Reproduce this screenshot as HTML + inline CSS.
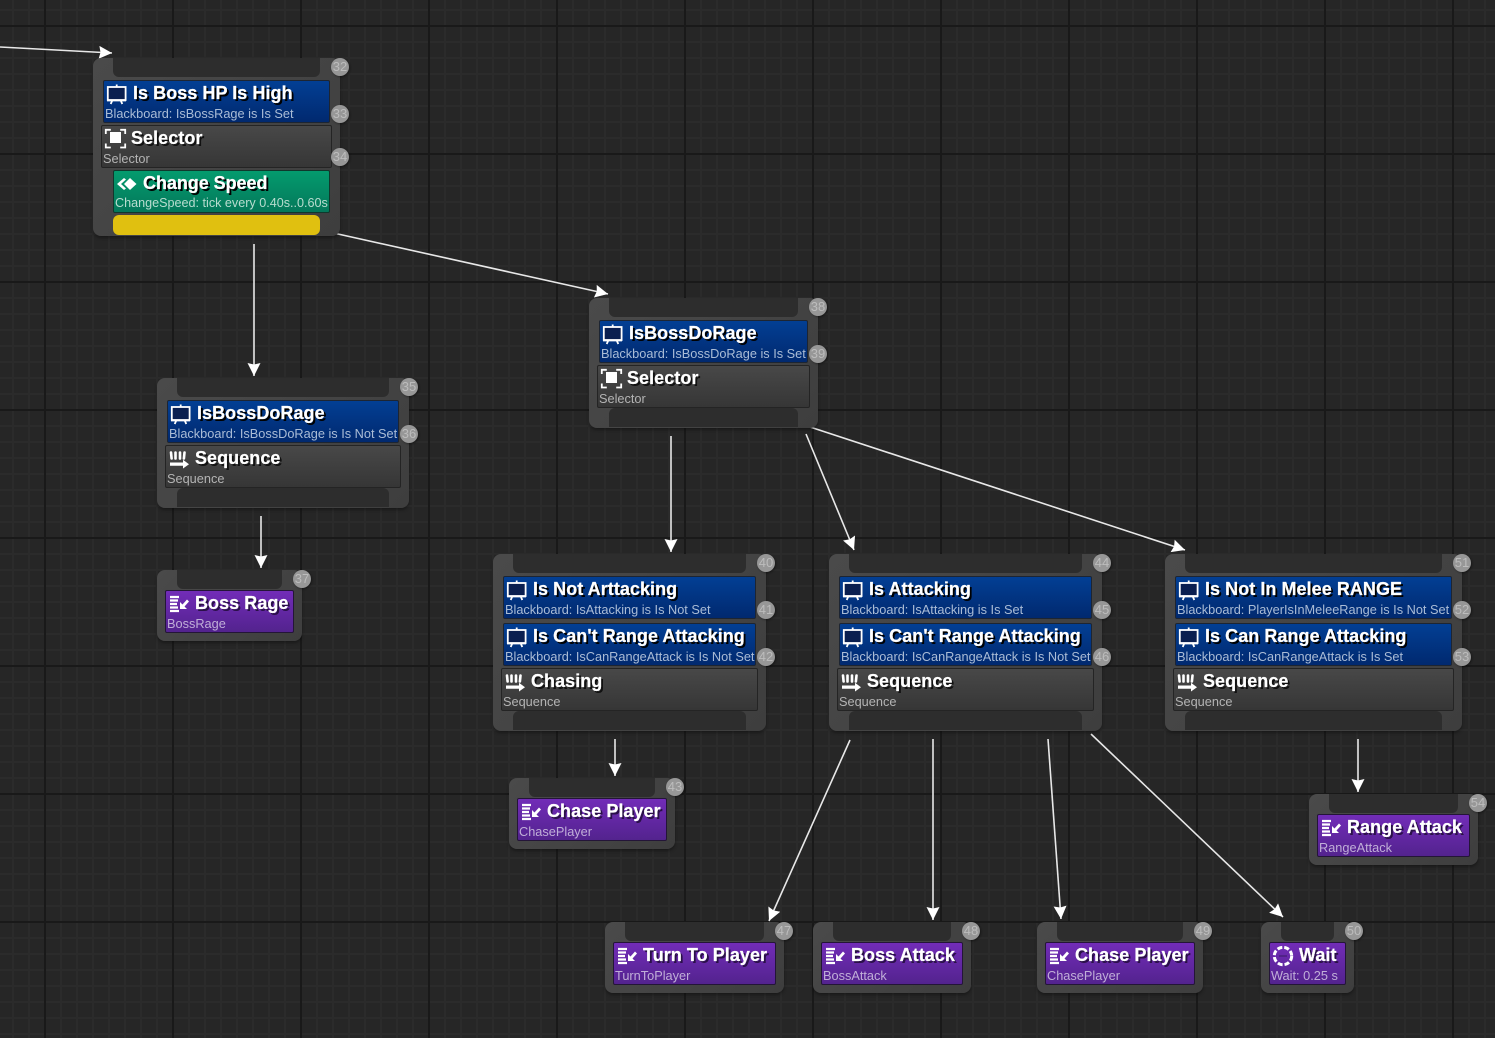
<!DOCTYPE html>
<html><head><meta charset="utf-8"><title>Behavior Tree</title>
<style>
html,body{margin:0;padding:0}
body{width:1495px;height:1038px;overflow:hidden;position:relative;background-color:#262626;
background-image:
linear-gradient(90deg,#191919 2px,transparent 2px),
linear-gradient(0deg,transparent calc(100% - 2px),#191919 calc(100% - 2px)),
linear-gradient(90deg,#2b2b2b 2px,transparent 2px),
linear-gradient(0deg,transparent calc(100% - 2px),#2b2b2b calc(100% - 2px));
background-size:128px 100%,100% 128px,16px 100%,100% 16px;
background-position:44px 0,0 25px,12px 0,0 9px;
font-family:"Liberation Sans",sans-serif}
.n,.t,.o,.b,.s,.g,.p,.c,svg.a,svg.i{position:absolute}
.n{background:linear-gradient(135deg,#4a4a4a,#3e3e3e);border-radius:8px;box-shadow:0 2px 3px rgba(0,0,0,.35)}
.t{background:#2d2d2d;height:19px;border-radius:0 0 6px 6px}
.o{background:#2d2d2d;height:19px;border-radius:6px 6px 0 0}
.y{background:#e0c010;height:20px}
.b,.s,.g,.p{height:43px;border-radius:2px;box-sizing:border-box;border:1px solid #1d2532;color:#fff}
.b{background:linear-gradient(#023f94,#01296f);color:#aabcd6}
.s{background:linear-gradient(#484848,#363636);border-color:#242424;color:#b4b4b4}
.g{background:linear-gradient(#049b6e,#04785a);border-color:#10382c;color:#b8dccf}
.p{background:linear-gradient(#722cb8,#53238e);border-color:#241538;color:#c0aed8}
.b b,.s b,.g b,.p b{position:absolute;left:29px;top:0;font:bold 18px/24px "Liberation Sans",sans-serif;letter-spacing:.05px;color:#fff;-webkit-text-stroke:.25px #fff;text-shadow:2px 2px 0 #000;white-space:nowrap}
.s b{text-shadow:2px 2px 0 #111}
.p b{text-shadow:2px 2px 0 #2a1048}
.g b{letter-spacing:-.05px}
.b span,.s span,.g span,.p span{position:absolute;left:1px;top:24px;font:12.75px/17px "Liberation Sans",sans-serif;white-space:nowrap}
.g span{font-size:12.6px}
.c{width:18px;height:18px;border-radius:50%;background:#979797;color:#bcbcbc;font:13px/18px "Liberation Sans",sans-serif;text-align:center;box-shadow:1px 1px 2px rgba(0,0,0,.4);z-index:3}
svg.i{left:-1px;top:-1px;width:28px;height:28px}
svg.a{left:0;top:0;z-index:0}
.n{z-index:1}.t,.o,.b,.s,.g,.p{z-index:2}
</style></head><body>
<svg width="0" height="0" style="position:absolute"><defs>
<symbol id="board" viewBox="0 0 28 28"><rect x="4.8" y="7" width="17.800" height="13" fill="#0a1f50" stroke="#fff" stroke-width="1.800"/><path d="M13.700 4.500v3M9.500 20l-1.800 4M17.500 20l1.800 4M4 20.500h19" stroke="#fff" stroke-width="1.800" fill="none"/></symbol>
<symbol id="sel" viewBox="0 0 28 28"><rect x="9" y="7" width="11" height="11" fill="#fff"/><path d="M4.800 9V4.800h5M19.200 4.800h5V9M4.800 18.500v4h5M19.200 22.500h5v-4" stroke="#fff" stroke-width="1.800" fill="none"/></symbol>
<symbol id="seq" viewBox="0 0 28 28"><path d="M6 7.500l.6 6M10.500 7.500v6M15 7.500v6M19.500 7.500l-.6 6" stroke="#fff" stroke-width="2.600" fill="none" stroke-linecap="round"/><path d="M5 17.500h13v-2.700l6 4.500-6 4.200v-2.700H5z" fill="#fff"/></symbol>
<symbol id="task" viewBox="0 0 28 28"><path d="M5 7h9M5 10.500h8M5 14h7M5 17.500h8M5 21h9" stroke="#fff" stroke-width="2.200" fill="none"/><path d="M15 12l2.500 2.500 4.500-5 2 2-4.500 5 2.500 2.500H15z" fill="#fff"/></symbol>
<symbol id="wait" viewBox="0 0 28 28"><circle cx="14" cy="14" r="8.700" fill="none" stroke="#fff" stroke-width="3" stroke-dasharray="5 2"/><path d="M10 14h8" stroke="#3a1a66" stroke-width="1"/></symbol>
<symbol id="svc" viewBox="0 0 28 28"><path d="M11 8L4 14l7 6 2-1.500L8 14l5-4.500z" fill="#fff"/><path d="M17 8l6.500 6-6.500 6-6-6z" fill="#fff"/></symbol>
</defs></svg>

<!-- 32 -->
<div class="n" style="left:93px;top:58px;width:247px;height:178px"></div>
<div class="t" style="left:113px;top:58px;width:207px"></div>
<div class="b" style="left:103px;top:80px;width:227px"><svg class="i"><use href="#board"/></svg><b>Is Boss HP Is High</b><span>Blackboard: IsBossRage is Is Set</span></div>
<div class="s" style="left:101px;top:125px;width:231px"><svg class="i"><use href="#sel"/></svg><b>Selector</b><span>Selector</span></div>
<div class="g" style="left:113px;top:170px;width:217px"><svg class="i"><use href="#svc"/></svg><b>Change Speed</b><span>ChangeSpeed: tick every 0.40s..0.60s</span></div>
<div class="o y" style="left:113px;top:215px;width:207px;border-radius:6px"></div>
<div class="c" style="left:331px;top:58px">32</div><div class="c" style="left:331px;top:105px">33</div><div class="c" style="left:331px;top:148px">34</div>

<!-- 35 -->
<div class="n" style="left:157px;top:378px;width:252px;height:130px"></div>
<div class="t" style="left:177px;top:378px;width:212px"></div>
<div class="b" style="left:167px;top:400px;width:232px"><svg class="i"><use href="#board"/></svg><b>IsBossDoRage</b><span>Blackboard: IsBossDoRage is Is Not Set</span></div>
<div class="s" style="left:165px;top:445px;width:236px"><svg class="i"><use href="#seq"/></svg><b>Sequence</b><span>Sequence</span></div>
<div class="o" style="left:177px;top:488px;width:212px"></div>
<div class="c" style="left:400px;top:378px">35</div><div class="c" style="left:400px;top:425px">36</div>

<!-- 37 -->
<div class="n" style="left:157px;top:570px;width:145px;height:71px"></div>
<div class="t" style="left:177px;top:570px;width:105px"></div>
<div class="p" style="left:165px;top:590px;width:129px"><svg class="i"><use href="#task"/></svg><b>Boss Rage</b><span>BossRage</span></div>
<div class="c" style="left:293px;top:570px">37</div>

<!-- 38 -->
<div class="n" style="left:589px;top:298px;width:229px;height:130px"></div>
<div class="t" style="left:609px;top:298px;width:189px"></div>
<div class="b" style="left:599px;top:320px;width:209px"><svg class="i"><use href="#board"/></svg><b>IsBossDoRage</b><span>Blackboard: IsBossDoRage is Is Set</span></div>
<div class="s" style="left:597px;top:365px;width:213px"><svg class="i"><use href="#sel"/></svg><b>Selector</b><span>Selector</span></div>
<div class="o" style="left:609px;top:408px;width:189px"></div>
<div class="c" style="left:809px;top:298px">38</div><div class="c" style="left:809px;top:345px">39</div>

<!-- 40 -->
<div class="n" style="left:493px;top:554px;width:273px;height:177px"></div>
<div class="t" style="left:513px;top:554px;width:233px"></div>
<div class="b" style="left:503px;top:576px;width:253px"><svg class="i"><use href="#board"/></svg><b>Is Not Arttacking</b><span>Blackboard: IsAttacking is Is Not Set</span></div>
<div class="b" style="left:503px;top:623px;width:253px"><svg class="i"><use href="#board"/></svg><b>Is Can't Range Attacking</b><span>Blackboard: IsCanRangeAttack is Is Not Set</span></div>
<div class="s" style="left:501px;top:668px;width:257px"><svg class="i"><use href="#seq"/></svg><b>Chasing</b><span>Sequence</span></div>
<div class="o" style="left:513px;top:711px;width:233px"></div>
<div class="c" style="left:757px;top:554px">40</div><div class="c" style="left:757px;top:601px">41</div><div class="c" style="left:757px;top:648px">42</div>

<!-- 44 -->
<div class="n" style="left:829px;top:554px;width:273px;height:177px"></div>
<div class="t" style="left:849px;top:554px;width:233px"></div>
<div class="b" style="left:839px;top:576px;width:253px"><svg class="i"><use href="#board"/></svg><b>Is Attacking</b><span>Blackboard: IsAttacking is Is Set</span></div>
<div class="b" style="left:839px;top:623px;width:253px"><svg class="i"><use href="#board"/></svg><b>Is Can't Range Attacking</b><span>Blackboard: IsCanRangeAttack is Is Not Set</span></div>
<div class="s" style="left:837px;top:668px;width:257px"><svg class="i"><use href="#seq"/></svg><b>Sequence</b><span>Sequence</span></div>
<div class="o" style="left:849px;top:711px;width:233px"></div>
<div class="c" style="left:1093px;top:554px">44</div><div class="c" style="left:1093px;top:601px">45</div><div class="c" style="left:1093px;top:648px">46</div>

<!-- 51 -->
<div class="n" style="left:1165px;top:554px;width:297px;height:177px"></div>
<div class="t" style="left:1185px;top:554px;width:257px"></div>
<div class="b" style="left:1175px;top:576px;width:277px"><svg class="i"><use href="#board"/></svg><b>Is Not In Melee RANGE</b><span>Blackboard: PlayerIsInMeleeRange is Is Not Set</span></div>
<div class="b" style="left:1175px;top:623px;width:277px"><svg class="i"><use href="#board"/></svg><b>Is Can Range Attacking</b><span>Blackboard: IsCanRangeAttack is Is Set</span></div>
<div class="s" style="left:1173px;top:668px;width:281px"><svg class="i"><use href="#seq"/></svg><b>Sequence</b><span>Sequence</span></div>
<div class="o" style="left:1185px;top:711px;width:257px"></div>
<div class="c" style="left:1453px;top:554px">51</div><div class="c" style="left:1453px;top:601px">52</div><div class="c" style="left:1453px;top:648px">53</div>

<!-- 43 -->
<div class="n" style="left:509px;top:778px;width:166px;height:71px"></div>
<div class="t" style="left:529px;top:778px;width:126px"></div>
<div class="p" style="left:517px;top:798px;width:150px"><svg class="i"><use href="#task"/></svg><b>Chase Player</b><span>ChasePlayer</span></div>
<div class="c" style="left:666px;top:778px">43</div>

<!-- 47 -->
<div class="n" style="left:605px;top:922px;width:179px;height:71px"></div>
<div class="t" style="left:625px;top:922px;width:139px"></div>
<div class="p" style="left:613px;top:942px;width:163px"><svg class="i"><use href="#task"/></svg><b>Turn To Player</b><span>TurnToPlayer</span></div>
<div class="c" style="left:775px;top:922px">47</div>

<!-- 48 -->
<div class="n" style="left:813px;top:922px;width:158px;height:71px"></div>
<div class="t" style="left:833px;top:922px;width:118px"></div>
<div class="p" style="left:821px;top:942px;width:142px"><svg class="i"><use href="#task"/></svg><b>Boss Attack</b><span>BossAttack</span></div>
<div class="c" style="left:962px;top:922px">48</div>

<!-- 49 -->
<div class="n" style="left:1037px;top:922px;width:166px;height:71px"></div>
<div class="t" style="left:1057px;top:922px;width:126px"></div>
<div class="p" style="left:1045px;top:942px;width:150px"><svg class="i"><use href="#task"/></svg><b>Chase Player</b><span>ChasePlayer</span></div>
<div class="c" style="left:1194px;top:922px">49</div>

<!-- 50 -->
<div class="n" style="left:1261px;top:922px;width:93px;height:71px"></div>
<div class="t" style="left:1281px;top:922px;width:53px"></div>
<div class="p" style="left:1269px;top:942px;width:77px"><svg class="i"><use href="#wait"/></svg><b>Wait</b><span>Wait: 0.25 s</span></div>
<div class="c" style="left:1345px;top:922px">50</div>

<!-- 54 -->
<div class="n" style="left:1309px;top:794px;width:169px;height:71px"></div>
<div class="t" style="left:1329px;top:794px;width:129px"></div>
<div class="p" style="left:1317px;top:814px;width:153px"><svg class="i"><use href="#task"/></svg><b>Range Attack</b><span>RangeAttack</span></div>
<div class="c" style="left:1469px;top:794px">54</div>

<svg class="a" width="1495" height="1038" viewBox="0 0 1495 1038">
<defs><marker id="h" markerUnits="userSpaceOnUse" markerWidth="16" markerHeight="16" refX="13" refY="7" orient="auto"><path d="M0 .5L13 7L0 13.500L1.500 7z" fill="#fff"/></marker></defs>
<g stroke="#e8e8e8" stroke-width="1.600" fill="none">
<line x1="0" y1="47" x2="112" y2="53" marker-end="url(#h)"/>
<line x1="329" y1="232" x2="608" y2="294" marker-end="url(#h)"/>
<line x1="254" y1="244" x2="254" y2="376" marker-end="url(#h)"/>
<line x1="261" y1="516" x2="261" y2="568" marker-end="url(#h)"/>
<line x1="671" y1="436" x2="671" y2="552" marker-end="url(#h)"/>
<line x1="806" y1="434" x2="854" y2="550" marker-end="url(#h)"/>
<line x1="807" y1="426" x2="1185" y2="550" marker-end="url(#h)"/>
<line x1="615" y1="739" x2="615" y2="776" marker-end="url(#h)"/>
<line x1="850" y1="740" x2="769" y2="921" marker-end="url(#h)"/>
<line x1="933" y1="739" x2="933" y2="920" marker-end="url(#h)"/>
<line x1="1048" y1="739" x2="1061" y2="919" marker-end="url(#h)"/>
<line x1="1091" y1="734" x2="1283" y2="917" marker-end="url(#h)"/>
<line x1="1358" y1="739" x2="1358" y2="792" marker-end="url(#h)"/>
</g></svg>
</body></html>
